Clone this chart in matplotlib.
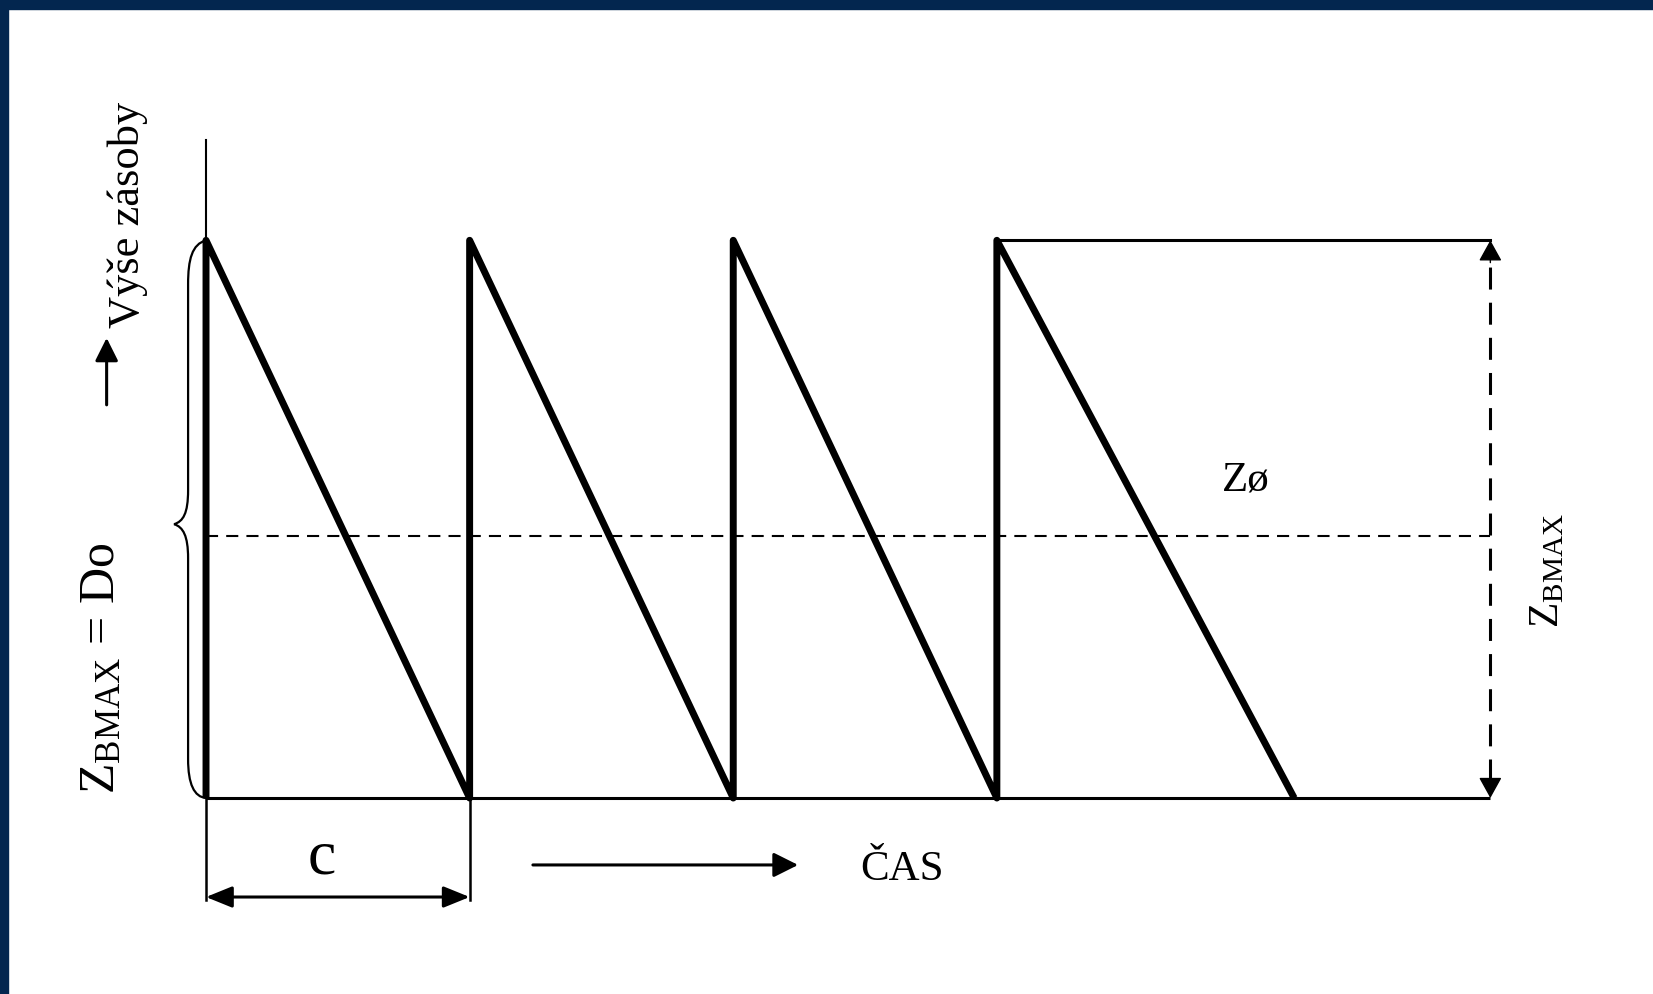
import matplotlib
matplotlib.use("Agg")
import matplotlib.pyplot as plt
from matplotlib.patches import Rectangle, PathPatch
from matplotlib.path import Path

plt.rcParams['font.family'] = ['Liberation Serif', 'DejaVu Serif']
plt.rcParams['mathtext.fontset'] = 'custom'
plt.rcParams['mathtext.rm'] = 'Liberation Serif'
plt.rcParams['mathtext.it'] = 'Liberation Serif:italic'

# data: cas v jednotkach cyklu c, zasoba relativne k Zmax
cycle_start = [0, 1, 2, 3]
cycle_end = [1, 2, 3, 4.128]
z_max = 1.0
z_avg = 0.47
t_end = 4.872
axis_top = 1.18

navy = '#03264f'

fig = plt.figure(figsize=(16.53, 9.95), dpi=100, facecolor='white')
ax = fig.add_axes([0, 0, 1, 1])
ax.set_xlim(-0.7815, 5.489)
ax.set_ylim(-0.3514, 1.4327)
ax.axis('off')

# ramecek nahore a vlevo
fig.patches.append(Rectangle((0, 1 - 10 / 995), 1, 10 / 995, transform=fig.transFigure, color=navy))
fig.patches.append(Rectangle((0, 0), 8 / 1653, 1, transform=fig.transFigure, color=navy))

# osy
ax.plot([0, 0], [0, axis_top], color='k', lw=1.5)
ax.plot([0, t_end], [0, 0], color='k', lw=2.2, solid_capstyle='butt')
ax.plot([cycle_start[-1], t_end], [z_max, z_max], color='k', lw=2.2)

# pila
xs, ys = [], []
for s, e in zip(cycle_start, cycle_end):
    xs += [s, s, e]
    ys += [0, z_max, 0]
ax.plot(xs, ys, color='k', lw=5, solid_joinstyle='round', solid_capstyle='butt')

# prumerna zasoba
ax.plot([0, t_end], [z_avg, z_avg], color='k', lw=1.5, linestyle=(0, (5.8, 3.9)))
ax.text(3.945, 0.572, 'Zø', fontsize=31, ha='center', va='center')

# sipka Zmax vpravo
ax.plot([t_end, t_end], [0.03, z_max - 0.03], color='k', lw=2.2, linestyle=(0, (7.2, 4.3)))
for tip, base in [(z_max, z_max - 0.04), (0, 0.04)]:
    ax.annotate('', xy=(t_end, tip), xytext=(t_end, base),
                arrowprops=dict(arrowstyle='-|>,head_length=1.3,head_width=0.72',
                                color='k', lw=1, shrinkA=0, shrinkB=0, mutation_scale=10))
ax.text(5.09, 0.409, r'$\mathrm{Z}_{\mathrm{BMAX}}$', fontsize=30, rotation=90,
        ha='center', va='center')

# slozena zavorka vlevo
bx, tx = -0.068, -0.121
verts = [(0, z_max),
         (-0.053, z_max - 0.007), (bx, z_max - 0.034), (bx, z_max - 0.079),
         (bx, 0.552),
         (bx, 0.51), (-0.087, 0.496), (tx, 0.496 - 0.005),
         (-0.087, 0.486), (bx, 0.47), (bx, 0.43),
         (bx, 0.07),
         (bx, 0.025), (-0.045, 0.002), (0, 0)]
codes = [Path.MOVETO, Path.CURVE4, Path.CURVE4, Path.CURVE4, Path.LINETO,
         Path.CURVE4, Path.CURVE4, Path.CURVE4, Path.CURVE4, Path.CURVE4, Path.CURVE4,
         Path.LINETO, Path.CURVE4, Path.CURVE4, Path.CURVE4]
ax.add_patch(PathPatch(Path(verts, codes), fill=False, lw=1.6, color='k'))

ax.text(-0.395, 0.235, r'$\mathrm{Z}_{\mathrm{BMAX}}$ = Do', fontsize=36, rotation=90,
        ha='center', va='center')
ax.text(-0.296, 1.047, 'Výše zásoby', fontsize=32, rotation=90, ha='center', va='center')
ax.annotate('', xy=(-0.377, 0.825), xytext=(-0.377, 0.705),
            arrowprops=dict(arrowstyle='-|>,head_length=1.4,head_width=0.7',
                            color='k', lw=2.2, shrinkA=0, shrinkB=0, mutation_scale=10))

# delka cyklu c
ax.plot([0, 0], [0, -0.183], color='k', lw=1.8)
ax.plot([1, 1], [0, -0.183], color='k', lw=1.8)
ax.annotate('', xy=(0, -0.1775), xytext=(1, -0.1775),
            arrowprops=dict(arrowstyle='<|-|>,head_length=1.6,head_width=0.65',
                            color='k', lw=2.2, shrinkA=0, shrinkB=0, mutation_scale=10))
ax.text(0.44, -0.106, 'c', fontsize=46, ha='center', va='center')

# cas
ax.annotate('', xy=(2.246, -0.12), xytext=(1.24, -0.12),
            arrowprops=dict(arrowstyle='-|>,head_length=1.5,head_width=0.75',
                            color='k', lw=2.2, shrinkA=0, shrinkB=0, mutation_scale=10))
ax.text(2.48, -0.127, 'ČAS', fontsize=31, ha='left', va='center')

fig.savefig('out.png', dpi=100, facecolor='white')
